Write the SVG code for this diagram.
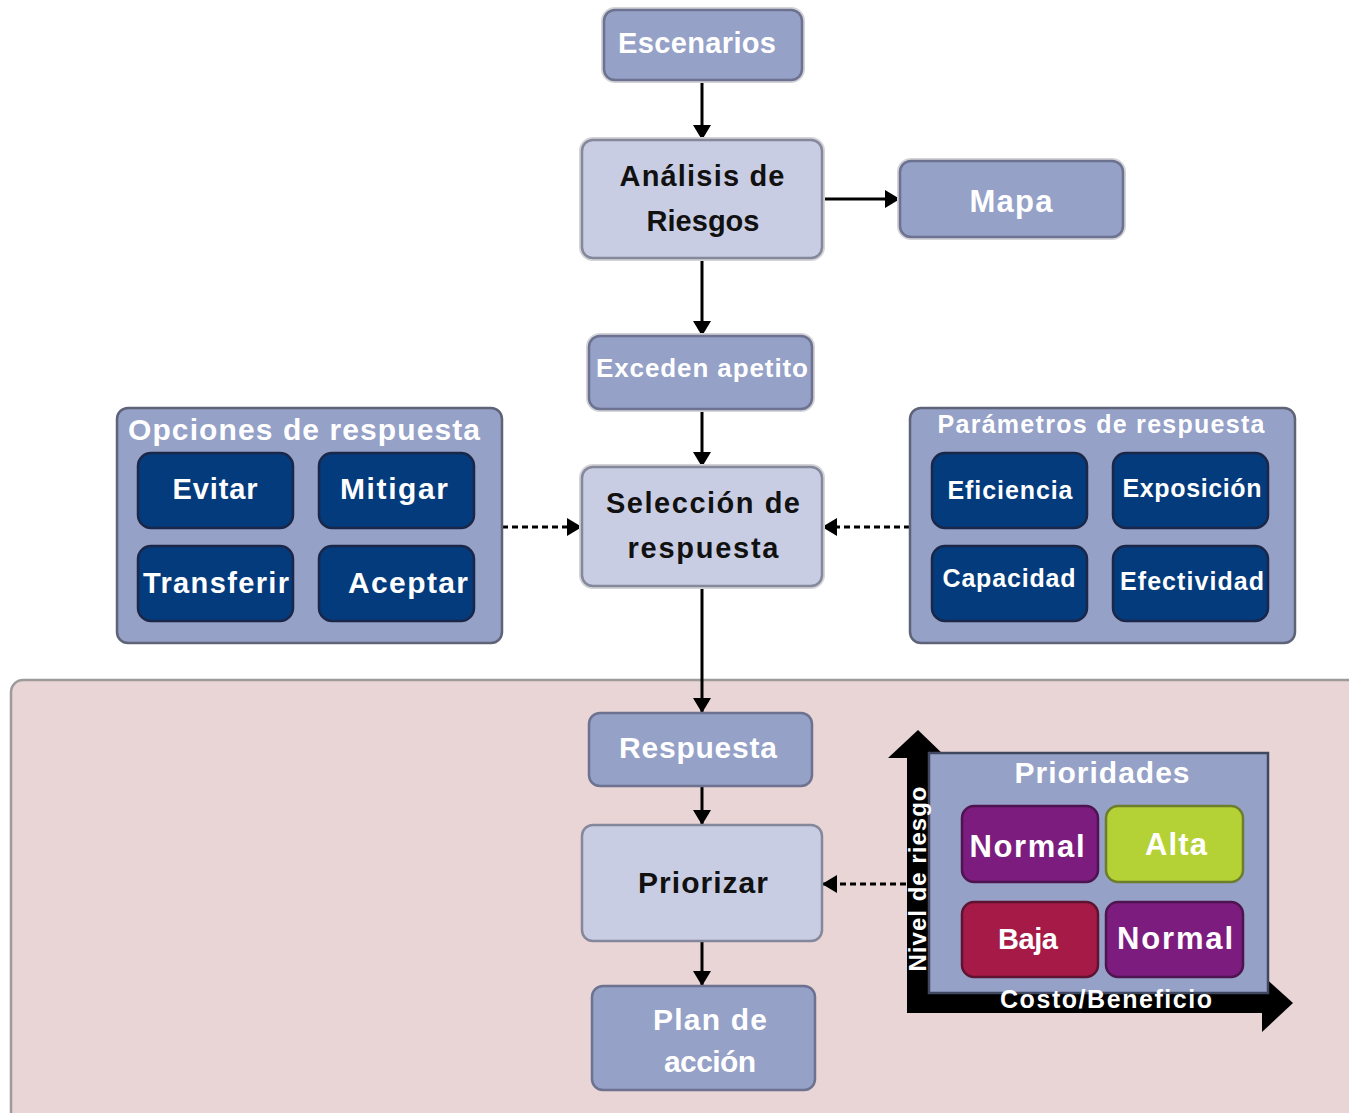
<svg xmlns="http://www.w3.org/2000/svg" width="1349" height="1113" viewBox="0 0 1349 1113">
  <defs>
    <style>
      text { font-family: "Liberation Sans", Arial, sans-serif; font-weight: bold; text-anchor: middle; }
      .w { fill: #ffffff; }
      .k { fill: #111111; }
      .mid { fill: #95A1C7; stroke: #6C7290; stroke-width: 2.5; }
      .light { fill: #C9CDE3; stroke: #85889A; stroke-width: 2.5; }
      .group { fill: #95A1C7; stroke: #5E6378; stroke-width: 2.5; }
      .navy { fill: #033B7C; stroke: #1A2748; stroke-width: 2.5; }
      .purple { fill: #7B1C7E; stroke: #4E1450; stroke-width: 2.5; }
      .lime { fill: #B4D235; stroke: #6E7D2C; stroke-width: 2.5; }
      .crimson { fill: #A51A47; stroke: #5E1430; stroke-width: 2.5; }
      .halo { fill: none; stroke: #D4D4D8; stroke-width: 6; }
      .edge { stroke: #000000; stroke-width: 3; fill: none; marker-end: url(#head); }
      .dash { stroke: #000000; stroke-width: 3; fill: none; stroke-dasharray: 6 4; marker-end: url(#head); }
    </style>
    <marker id="head" markerUnits="userSpaceOnUse" markerWidth="16" markerHeight="18" refX="15" refY="9" orient="auto">
      <path d="M0,0 L15,9 L0,18 z" fill="#000000"/>
    </marker>
  </defs>

  <rect width="1349" height="1113" fill="#ffffff"/>

  <!-- shaded lower zone -->
  <g id="zone">
    <rect x="11" y="680" width="1360" height="460" rx="12" fill="#E9D5D5" stroke="#9E9A9A" stroke-width="2.5"/>
  </g>

  <!-- connectors -->
  <g id="connectors">
    <line class="edge" x1="702" y1="80" x2="702" y2="140"/>
    <line class="edge" x1="822" y1="199" x2="900" y2="199"/>
    <line class="edge" x1="702" y1="258" x2="702" y2="336"/>
    <line class="edge" x1="702" y1="409" x2="702" y2="467"/>
    <line class="edge" x1="702" y1="586" x2="702" y2="713"/>
    <line class="edge" x1="702" y1="786" x2="702" y2="825"/>
    <line class="edge" x1="702" y1="941" x2="702" y2="986"/>
    <line class="dash" x1="502" y1="527" x2="582" y2="527"/>
    <line class="dash" x1="910" y1="527" x2="822" y2="527"/>
    <line class="dash" x1="906" y1="884" x2="822" y2="884"/>
  </g>

  <g id="escenarios">
    <rect class="halo" x="604" y="10" width="198" height="70" rx="11"/>
    <rect class="mid" x="604" y="10" width="198" height="70" rx="11"/>
    <text class="w" x="697" y="53" font-size="29" textLength="158">Escenarios</text>
  </g>

  <g id="analisis">
    <rect class="halo" x="582" y="140" width="240" height="118" rx="11"/>
    <rect class="light" x="582" y="140" width="240" height="118" rx="11"/>
    <text class="k" x="702" y="186" font-size="29" textLength="165">Análisis de</text>
    <text class="k" x="703" y="231" font-size="29" textLength="113">Riesgos</text>
  </g>

  <g id="mapa">
    <rect class="halo" x="900" y="161" width="223" height="76" rx="11"/>
    <rect class="mid" x="900" y="161" width="223" height="76" rx="11"/>
    <text class="w" x="1011" y="212" font-size="31" textLength="83">Mapa</text>
  </g>

  <g id="exceden">
    <rect class="halo" x="589" y="336" width="223" height="73" rx="11"/>
    <rect class="mid" x="589" y="336" width="223" height="73" rx="11"/>
    <text class="w" x="702" y="377" font-size="26" textLength="212">Exceden apetito</text>
  </g>

  <g id="seleccion">
    <rect class="halo" x="582" y="467" width="240" height="119" rx="11"/>
    <rect class="light" x="582" y="467" width="240" height="119" rx="11"/>
    <text class="k" x="703" y="513" font-size="29" textLength="194">Selección de</text>
    <text class="k" x="703" y="558" font-size="29" textLength="151">respuesta</text>
  </g>

  <g id="opciones">
    <rect class="group" x="117" y="408" width="385" height="235" rx="11"/>
    <text class="w" x="304" y="440" font-size="30" textLength="352">Opciones de respuesta</text>
    <rect class="navy" x="138" y="453" width="155" height="75" rx="13"/>
    <text class="w" x="215" y="499" font-size="29" textLength="85">Evitar</text>
    <rect class="navy" x="319" y="453" width="155" height="75" rx="13"/>
    <text class="w" x="394" y="499" font-size="30" textLength="108">Mitigar</text>
    <rect class="navy" x="138" y="546" width="155" height="75" rx="13"/>
    <text class="w" x="216" y="593" font-size="29" textLength="146">Transferir</text>
    <rect class="navy" x="319" y="546" width="155" height="75" rx="13"/>
    <text class="w" x="408" y="593" font-size="30" textLength="120">Aceptar</text>
  </g>

  <g id="parametros">
    <rect class="group" x="910" y="408" width="385" height="235" rx="11"/>
    <text class="w" x="1101" y="433" font-size="25" textLength="327">Parámetros de respuesta</text>
    <rect class="navy" x="932" y="453" width="155" height="75" rx="13"/>
    <text class="w" x="1010" y="499" font-size="25" textLength="125">Eficiencia</text>
    <rect class="navy" x="1113" y="453" width="155" height="75" rx="13"/>
    <text class="w" x="1192" y="497" font-size="25" textLength="139">Exposición</text>
    <rect class="navy" x="932" y="546" width="155" height="75" rx="13"/>
    <text class="w" x="1009" y="587" font-size="25" textLength="133">Capacidad</text>
    <rect class="navy" x="1113" y="546" width="155" height="75" rx="13"/>
    <text class="w" x="1192" y="590" font-size="25" textLength="144">Efectividad</text>
  </g>

  <g id="respuesta">
    <rect class="mid" x="589" y="713" width="223" height="73" rx="11"/>
    <text class="w" x="698" y="758" font-size="30" textLength="158">Respuesta</text>
  </g>

  <g id="priorizar">
    <rect class="light" x="582" y="825" width="240" height="116" rx="11"/>
    <text class="k" x="703" y="893" font-size="30" textLength="130">Priorizar</text>
  </g>

  <g id="plan">
    <rect class="mid" x="592" y="986" width="223" height="104" rx="11"/>
    <text class="w" x="710" y="1030" font-size="30" textLength="114">Plan de</text>
    <text class="w" x="710" y="1072" font-size="30" textLength="92">acción</text>
  </g>

  <g id="prioridades">
    <!-- axes -->
    <rect x="907" y="755" width="22" height="258" fill="#000000"/>
    <polygon points="888,758 918,730 947,758" fill="#000000"/>
    <rect x="907" y="993" width="358" height="20" fill="#000000"/>
    <polygon points="1262,975 1293,1003 1262,1032" fill="#000000"/>
    <rect x="929" y="753" width="339" height="240" fill="#95A1C7" stroke="#404860" stroke-width="2.5"/>
    <text class="w" x="1102" y="783" font-size="30" textLength="175">Prioridades</text>
    <rect class="purple" x="962" y="806" width="136" height="76" rx="12"/>
    <text class="w" x="1027" y="857" font-size="31" textLength="115">Normal</text>
    <rect class="lime" x="1106" y="806" width="137" height="76" rx="12"/>
    <text class="w" x="1176" y="855" font-size="31" textLength="62">Alta</text>
    <rect class="crimson" x="962" y="902" width="136" height="75" rx="12"/>
    <text class="w" x="1028" y="949" font-size="29" textLength="60">Baja</text>
    <rect class="purple" x="1106" y="902" width="137" height="75" rx="12"/>
    <text class="w" x="1175" y="949" font-size="31" textLength="116">Normal</text>
    <text class="w" x="1106" y="1008" font-size="25" textLength="212">Costo/Beneficio</text>
    <text class="w" transform="translate(926,879) rotate(-90)" x="0" y="0" font-size="24" textLength="185">Nivel de riesgo</text>
  </g>
</svg>
